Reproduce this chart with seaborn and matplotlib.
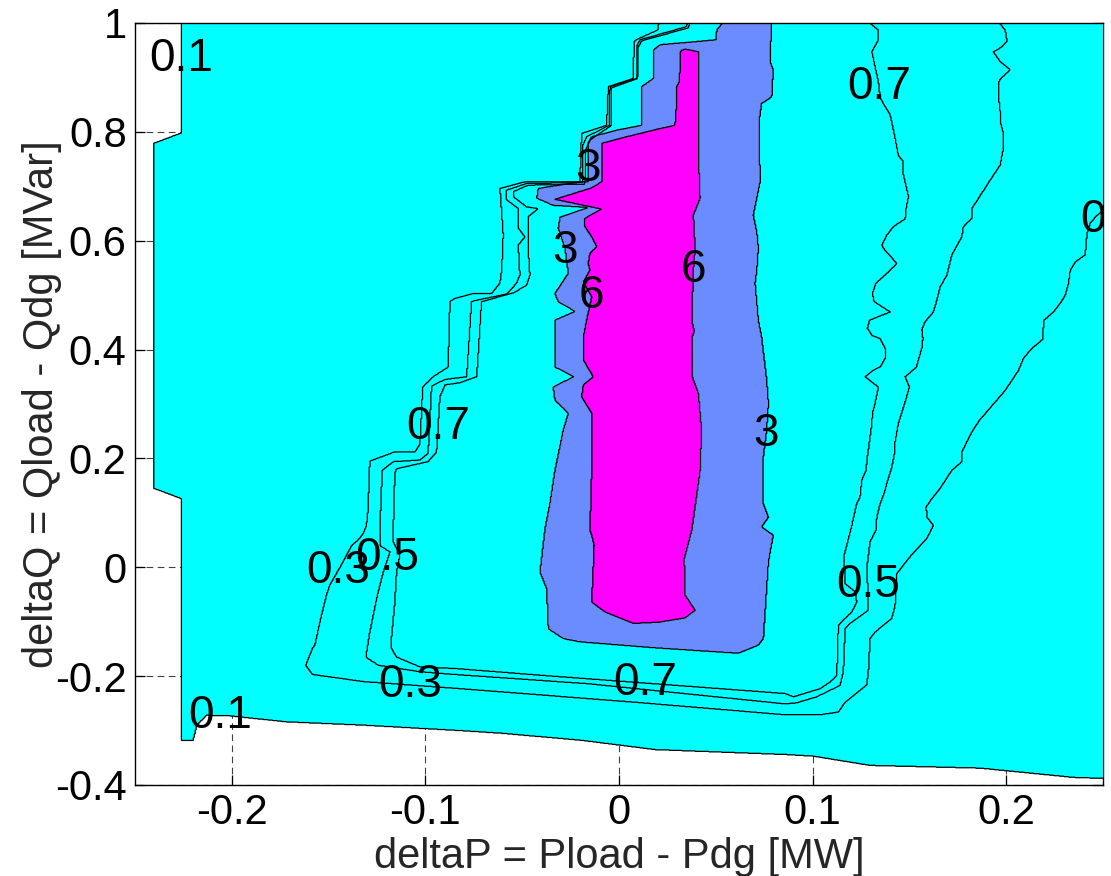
import numpy as np
import matplotlib
matplotlib.use("Agg")
import matplotlib.pyplot as plt
from matplotlib.path import Path
import seaborn as sns

# ---------------- data: contour boundaries ----------------
# level 0.1 (edge of the computed domain, white outside)
lev01_x = [-0.226, -0.226, -0.2402, -0.2402, -0.226, -0.226, -0.220, -0.218, -0.213, -0.201,
           -0.1716, -0.1323, -0.0822, -0.0605, -0.0191, 0.0186, 0.0858, 0.1003, 0.1297,
           0.1866, 0.2346, 0.2512, 0.29, 0.29]
lev01_y = [1.08, 0.798, 0.779, 0.145, 0.126, -0.318, -0.318, -0.290, -0.272, -0.273,
           -0.284, -0.290, -0.300, -0.305, -0.318, -0.335, -0.344, -0.347, -0.364,
           -0.369, -0.386, -0.388, -0.392, 1.08]

# level 0.3 (outer U)
lev03_x = [0.0212, 0.0208, 0.0200, 0.0100, 0.0078, 0.0074, -0.0055, -0.0064, -0.0193, -0.0202,
           -0.0486, -0.0615, -0.0598, -0.0606, -0.0615, -0.0658, -0.0753, -0.0848, -0.0873,
           -0.0882, -0.0960, -0.1014, -0.1028, -0.1054, -0.1158, -0.1287, -0.1296, -0.1304,
           -0.1321, -0.1347, -0.1381, -0.1425, -0.1494, -0.1511, -0.1545, -0.1571, -0.1583,
           -0.1618, -0.1583, -0.1321, -0.0822, 0.0083, 0.0858, 0.1039, 0.1133, 0.1168, 0.1280,
           0.1288, 0.1297, 0.1323, 0.1409, 0.1426, 0.1435, 0.1495, 0.1590, 0.1624, 0.1590,
           0.1587, 0.1616, 0.1659, 0.1719, 0.1771, 0.1771, 0.1823, 0.1862, 0.1995, 0.2064,
           0.2089, 0.2133, 0.2190, 0.2193, 0.2244, 0.2279, 0.2305, 0.2322, 0.2331, 0.2357,
           0.2408, 0.2413, 0.2417, 0.2434, 0.2465, 0.2512, 0.2600, 0.2900, 0.2900]
lev03_y = [1.08, 1.004, 0.987, 0.971, 0.966, 0.898, 0.883, 0.812, 0.797, 0.708,
           0.708, 0.696, 0.610, 0.546, 0.522, 0.503, 0.503, 0.494, 0.488,
           0.368, 0.350, 0.331, 0.227, 0.212, 0.212, 0.195, 0.105, 0.077,
           0.062, 0.050, 0.040, 0.010, -0.033, -0.051, -0.101, -0.143, -0.149,
           -0.180, -0.197, -0.210, -0.223, -0.248, -0.271, -0.271, -0.266, -0.248, -0.216,
           -0.192, -0.131, -0.119, -0.094, -0.070, -0.012, 0.016, 0.053, 0.077, 0.092,
           0.111, 0.126, 0.145, 0.178, 0.194, 0.212, 0.249, 0.270, 0.325, 0.362,
           0.384, 0.402, 0.419, 0.453, 0.469, 0.485, 0.500, 0.522, 0.546, 0.561,
           0.574, 0.592, 0.613, 0.632, 0.645, 0.659, 0.684, 0.710, 1.08]

# level 0.5 (middle U)
lev05_x = [0.0363, 0.0363, 0.0346, 0.0109, 0.0095, 0.0091, -0.0047, -0.0050, -0.0167, -0.0186,
           -0.0186, -0.0477, -0.0580, -0.0580, -0.0520, -0.0520, -0.0486, -0.0520, -0.0512,
           -0.0529, -0.0580, -0.0744, -0.0761, -0.0787, -0.0899, -0.0968, -0.0986, -0.1028,
           -0.1166, -0.1223, -0.1235, -0.1235, -0.1183, -0.1218, -0.1252, -0.1287, -0.1307,
           -0.1244, -0.1028, -0.0848, -0.0159, 0.0858, 0.0918, 0.1022, 0.1142, 0.1159, 0.1168,
           0.1194, 0.1288, 0.1288, 0.1280, 0.1297, 0.1327, 0.1332, 0.1349, 0.1375, 0.1383,
           0.1409, 0.1426, 0.1426, 0.1443, 0.1478, 0.1500, 0.1478, 0.1535, 0.1564, 0.1570,
           0.1564, 0.1581, 0.1624, 0.1642, 0.1659, 0.1694, 0.1719, 0.1771, 0.1779, 0.1823,
           0.1823, 0.1857, 0.1917, 0.1969, 0.1986, 0.1986, 0.1969, 0.1969, 0.1960, 0.1964,
           0.2021, 0.1969, 0.1934, 0.1978, 0.2004, 0.1995, 0.1960, 0.1950]
lev05_y = [1.08, 1.004, 0.993, 0.969, 0.960, 0.898, 0.883, 0.812, 0.791, 0.776,
           0.707, 0.705, 0.693, 0.675, 0.659, 0.623, 0.607, 0.592, 0.537,
           0.522, 0.502, 0.490, 0.488, 0.350, 0.345, 0.333, 0.209, 0.197,
           0.194, 0.178, 0.068, 0.040, 0.028, -0.009, -0.058, -0.119, -0.165,
           -0.180, -0.192, -0.197, -0.214, -0.251, -0.249, -0.238, -0.217, -0.192, -0.113,
           -0.103, -0.079, -0.058, -0.002, 0.047, 0.068, 0.092, 0.117, 0.142, 0.154,
           0.184, 0.215, 0.230, 0.264, 0.304, 0.331, 0.350, 0.367, 0.402, 0.420,
           0.436, 0.451, 0.469, 0.491, 0.515, 0.537, 0.574, 0.607, 0.626, 0.641,
           0.659, 0.678, 0.711, 0.739, 0.770, 0.797, 0.819, 0.837, 0.865, 0.895,
           0.914, 0.929, 0.947, 0.956, 0.966, 0.987, 1.002, 1.08]

# level 0.7 (inner U)
lev07_x = [0.0367, 0.0367, 0.0358, 0.0117, 0.0100, 0.0095, -0.0038, -0.0038, -0.0150, -0.0171,
           -0.0176, -0.0469, -0.0546, -0.0546, -0.0477, -0.0417, -0.0469, -0.0469, -0.0460,
           -0.0477, -0.0546, -0.0710, -0.0735, -0.0822, -0.0899, -0.0925, -0.0942, -0.0986,
           -0.1149, -0.1158, -0.1166, -0.1166, -0.1132, -0.1149, -0.1158, -0.1175, -0.1175,
           -0.1149, -0.1028, -0.0848, -0.0382, 0.0858, 0.0901, 0.1039, 0.1090, 0.1125, 0.1133,
           0.1159, 0.1203, 0.1228, 0.1220, 0.1168, 0.1163, 0.1203, 0.1228, 0.1245, 0.1254,
           0.1276, 0.1283, 0.1306, 0.1309, 0.1323, 0.1340, 0.1271, 0.1314, 0.1349, 0.1375,
           0.1375, 0.1349, 0.1306, 0.1283, 0.1294, 0.1401, 0.1318, 0.1309, 0.1327, 0.1390,
           0.1435, 0.1366, 0.1358, 0.1383, 0.1418, 0.1478, 0.1483, 0.1495, 0.1469, 0.1469,
           0.1443, 0.1426, 0.1401, 0.1349, 0.1340, 0.1306, 0.1340, 0.1340, 0.1288, 0.1280]
lev07_y = [1.08, 1.000, 0.991, 0.967, 0.956, 0.898, 0.881, 0.812, 0.785, 0.767,
           0.704, 0.702, 0.690, 0.681, 0.662, 0.659, 0.644, 0.586, 0.537,
           0.518, 0.504, 0.488, 0.350, 0.339, 0.335, 0.313, 0.212, 0.194,
           0.181, 0.172, 0.068, 0.047, 0.022, -0.009, -0.064, -0.131, -0.149,
           -0.165, -0.183, -0.186, -0.199, -0.232, -0.238, -0.223, -0.211, -0.199, -0.107,
           -0.097, -0.082, -0.064, -0.045, -0.030, 0.022, 0.077, 0.117, 0.129, 0.160,
           0.178, 0.203, 0.264, 0.283, 0.301, 0.331, 0.350, 0.362, 0.368, 0.384,
           0.402, 0.420, 0.426, 0.439, 0.454, 0.469, 0.488, 0.503, 0.522, 0.542,
           0.558, 0.586, 0.592, 0.610, 0.626, 0.640, 0.659, 0.681, 0.721, 0.745,
           0.757, 0.788, 0.831, 0.862, 0.892, 0.947, 0.969, 0.987, 1.002, 1.08]

# level 3 (blue area)
lev3_x = [0.0539, 0.0539, 0.0505, 0.0501, 0.0212, 0.0177, 0.0177, 0.0117, 0.0117, -0.0012,
          -0.0141, -0.0160, -0.0160, -0.0202, -0.0417, -0.0425, -0.0341, -0.0159, -0.0305,
          -0.0314, -0.0279, -0.0262, -0.0331, -0.0314, -0.0227, -0.0331, -0.0331, -0.0236,
          -0.0340, -0.0331, -0.0262, -0.0288, -0.0331, -0.0357, -0.0382, -0.0408, -0.0374,
          -0.0365, -0.0288, -0.0202, 0.0186, 0.0617, 0.0720, 0.0746, 0.0772, 0.0797, 0.0737,
          0.0772, 0.0746, 0.0746, 0.0763, 0.0772, 0.0763, 0.0737, 0.0720, 0.0703, 0.0712,
          0.0720, 0.0712, 0.0694, 0.0729, 0.0724, 0.0737, 0.0789, 0.0797, 0.0780, 0.0789, 0.0790]
lev3_y = [1.08, 1.002, 0.987, 0.969, 0.960, 0.950, 0.898, 0.883, 0.812, 0.803,
          0.791, 0.779, 0.708, 0.708, 0.696, 0.678, 0.665, 0.661, 0.643,
          0.623, 0.586, 0.540, 0.503, 0.488, 0.470, 0.454, 0.368, 0.350,
          0.331, 0.307, 0.283, 0.252, 0.178, 0.117, 0.072, -0.009, -0.039,
          -0.113, -0.131, -0.137, -0.148, -0.158, -0.143, -0.131, 0.010, 0.059, 0.074,
          0.092, 0.117, 0.203, 0.252, 0.301, 0.344, 0.423, 0.454, 0.522, 0.546,
          0.586, 0.616, 0.647, 0.708, 0.819, 0.852, 0.864, 0.914, 0.929, 1.002, 1.08]

# level 6 (magenta area)
lev6_x = [0.0319, 0.0341, 0.0410, 0.0410, 0.0419, 0.0384, 0.0393, 0.0384, 0.0376, 0.0389,
          0.0379, 0.0379, 0.0410, 0.0427, 0.0419, 0.0376, 0.0337, 0.0341, 0.0393, 0.0341,
          0.0203, 0.0074, -0.0072, -0.0141, -0.0128, -0.0141, -0.0150, -0.0141, -0.0141,
          -0.0193, -0.0184, -0.0133, -0.0184, -0.0184, -0.0167, -0.0141, -0.0184, -0.0150,
          -0.0159, -0.0150, -0.0115, -0.0141, -0.0176, -0.0176, -0.0089, -0.0331, -0.0150,
          -0.0089, -0.0089, 0.0040, 0.0109, 0.0212, 0.0289, 0.0298, 0.0298, 0.0312]
lev6_y = [0.949, 0.952, 0.947, 0.757, 0.678, 0.647, 0.586, 0.546, 0.454, 0.433,
          0.424, 0.350, 0.319, 0.252, 0.178, 0.068, 0.016, -0.051, -0.079, -0.093,
          -0.101, -0.103, -0.082, -0.064, 0.040, 0.059, 0.068, 0.178, 0.283,
          0.313, 0.335, 0.350, 0.381, 0.423, 0.454, 0.497, 0.524, 0.546,
          0.558, 0.577, 0.589, 0.607, 0.626, 0.641, 0.658, 0.676, 0.696,
          0.708, 0.779, 0.791, 0.797, 0.806, 0.812, 0.855, 0.883, 0.892]

# label texts and where each one sits (data units)
labels_01 = [(-0.226, 0.934), (-0.206, -0.279)]
labels_03 = [(-0.1437, -0.009), (-0.108, -0.213)]
labels_0 = [(0.2434, 0.642)]           # the "0" label shown at the right edge
labels_05 = [(-0.1209, 0.018), (0.127, -0.033)]
labels_07 = [(-0.0966, 0.257), (0.0134, -0.215), (0.136, 0.882)]
labels_3 = [(-0.0158, 0.732), (-0.0270, 0.581), (0.0762, 0.2445)]
labels_6 = [(-0.0150, 0.498), (0.0382, 0.546)]

xticks = [-0.2, -0.1, 0, 0.1, 0.2]
xtick_labels = ['-0.2', '-0.1', '0', '0.1', '0.2']
yticks = [-0.4, -0.2, 0, 0.2, 0.4, 0.6, 0.8, 1]
ytick_labels = ['-0.4', '-0.2', '0', '0.2', '0.4', '0.6', '0.8', '1']

# ---------------- drawing ----------------
sns.set_style("ticks")
plt.rcParams['font.family'] = ['Liberation Sans', 'DejaVu Sans']

fig = plt.figure(figsize=(11.11, 8.76), dpi=100)
ax = fig.add_axes([0.1215, 0.1039, 0.8713, 0.8699])

gx = np.linspace(-0.27, 0.30, 1200)
gy = np.linspace(-0.45, 1.10, 1700)
GX, GY = np.meshgrid(gx, gy)
pts = np.column_stack([GX.ravel(), GY.ravel()])


def inside(xs, ys):
    p = Path(np.column_stack([xs, ys]))
    return p.contains_points(pts).reshape(GX.shape).astype(float)


dom = inside(lev01_x, lev01_y)
in03 = inside(lev03_x, lev03_y)
in05 = inside(lev05_x, lev05_y)
in07 = inside(lev07_x, lev07_y)
in3 = inside(lev3_x, lev3_y)
in6 = inside(lev6_x, lev6_y)

F = np.where(in6 > 0, 3, np.where(in3 > 0, 2, np.where(dom > 0, 1, 0))).astype(float)

ax.contourf(GX, GY, F, levels=[0.5, 1.5, 2.5, 3.5],
            colors=['#00FFFF', '#6B8CFF', '#FF00FF'], zorder=3, antialiased=True)

lw = 0.9
font_lab = 33


def label(cs, pos, txt):
    texts = ax.clabel(cs, levels=[0.5], manual=pos, inline=False, fmt={0.5: txt},
                      fontsize=font_lab, colors='k')
    for t in texts:
        t.set_rotation(0)


sets = [(dom, [('0.1', labels_01)]),
        (in03, [('0.3', labels_03), ('0', labels_0)]),
        (in05, [('0.5', labels_05)]),
        (in07, [('0.7', labels_07)]),
        (in3, [('3', labels_3)]),
        (in6, [('6', labels_6)])]
for field, labs in sets:
    cs = ax.contour(GX, GY, field, levels=[0.5], colors='k', linewidths=lw, zorder=4)
    for txt, pos in labs:
        label(cs, pos, txt)

ax.set_xlim(-0.25, 0.25)
ax.set_ylim(-0.4, 1.0)
ax.set_xticks(xticks)
ax.set_xticklabels(xtick_labels)
ax.set_yticks(yticks)
ax.set_yticklabels(ytick_labels)

ax.set_axisbelow(True)
ax.grid(True, linestyle=(0, (6, 4)), color='0.25', linewidth=0.8)
ax.tick_params(direction='in', length=7, width=0.9, labelsize=30, colors='k',
               top=True, right=True, pad=6)

for side in ['left', 'bottom', 'right', 'top']:
    ax.spines[side].set_color('k')
    ax.spines[side].set_linewidth(1.0)
ax.spines['top'].set_zorder(6)

ax.set_xlabel('deltaP = Pload - Pdg [MW]', fontsize=30)
ax.set_ylabel('deltaQ = Qload - Qdg [MVar]', fontsize=30)
ax.xaxis.set_label_coords(0.5, -0.068)
ax.yaxis.set_label_coords(-0.075, 0.5)

fig.savefig('out.png', dpi=100)
